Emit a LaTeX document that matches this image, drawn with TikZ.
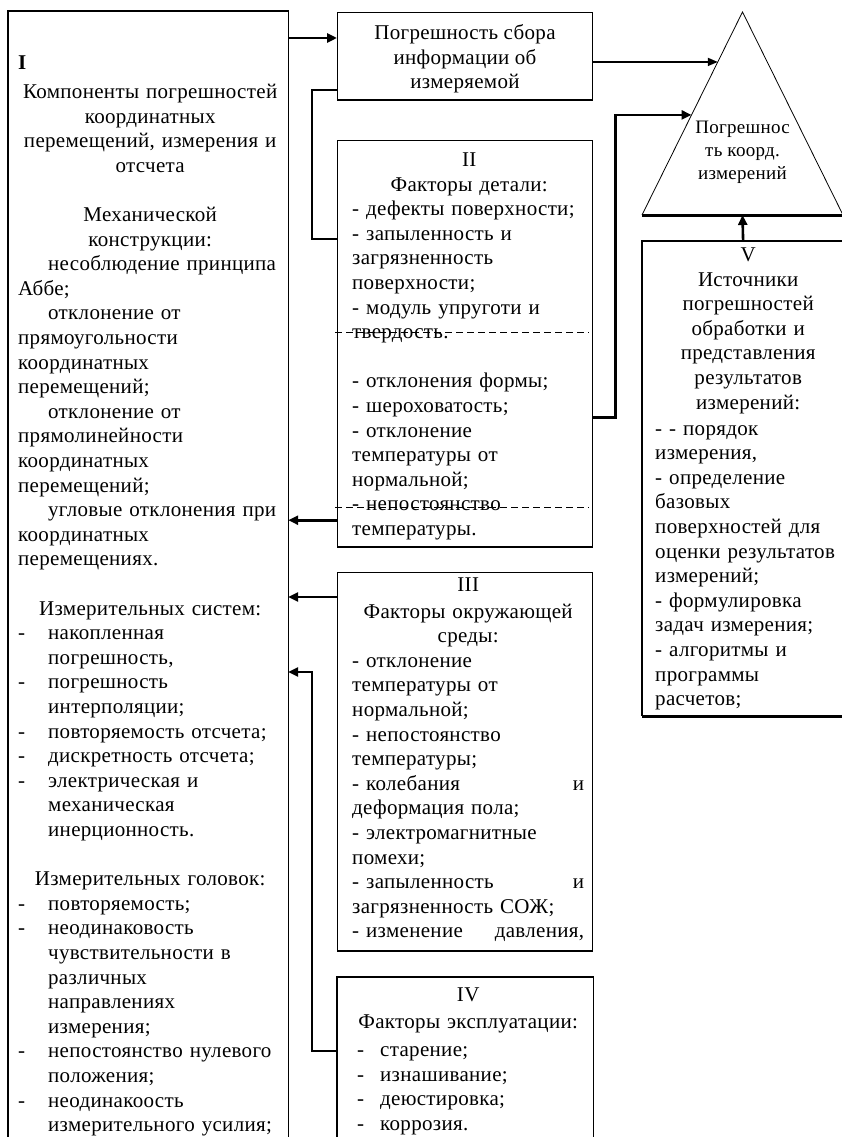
\documentclass[tikz,border=0pt]{standalone}
\usepackage{fontspec}
\setmainfont{Liberation Serif}[LetterSpace=1.5]
\usetikzlibrary{arrows.meta,calc}
\setlength{\parindent}{0pt}
\newcommand{\bodyfont}{\fontsize{21}{24.6}\selectfont}
\newcommand{\trifont}{\fontsize{19}{23}\selectfont}
\newcommand{\ctrline}[1]{\mbox{}\hfill\mbox{#1}\hfill\mbox{}}
\newcommand{\itm}{\makebox[30pt][l]{-}}
\newcommand{\indt}{\hspace*{30pt}}
\newcommand{\ivitem}[1]{\hspace*{5pt}-\hspace*{16pt}#1}
\begin{document}
\begin{tikzpicture}[x=1pt,y=-1pt,
    boxf/.style={draw,line width=1.2pt,inner sep=0pt,anchor=north west},
    txt/.style={inner sep=0pt,anchor=north west,align=left,font=\bodyfont},
    link/.style={line width=2.6pt},
    arr/.style={link,-{Triangle[length=10pt,width=9pt]}},
    arrw/.style={line width=1.8pt,-{Triangle[length=10pt,width=8pt]}}]
    \useasboundingbox (0,0) rectangle (842,1137);
    \begin{scope}[every node/.style={boxf}]
        \node[draw=none,minimum width=279pt,minimum height=1126pt] (If) at (8,11) {};
        \node[minimum width=255pt,minimum height=87pt] (Sf) at (337,12) {};
        \node[minimum width=255pt,minimum height=406pt] (IIf) at (337,140) {};
        \node[minimum width=255pt,minimum height=378pt] (IIIf) at (337,572) {};
        \node[draw=none,minimum width=255pt,minimum height=160pt] (IVf) at (337,977) {};
        \node[draw=none,minimum width=201pt,minimum height=474pt] (Vf) at (642,241) {};
    \end{scope}
    \draw[line width=1.2pt] (If.south west) -- (If.north west) -- (If.north east) -- (If.south east);
    \draw[line width=1.2pt] (IVf.south west) -- (IVf.north west) -- (IVf.north east) -- (IVf.south east);
    \draw[line width=1.2pt] (Vf.north east) -- (Vf.north west) -- (Vf.south west);
    \draw[line width=3pt] (Vf.south west) -- (Vf.south east);
    \draw[line width=2pt] (Sf.south west) -- (Sf.south east);
    \draw[line width=2pt] (IIf.south west) -- (IIf.south east);
    \draw[line width=2.4pt] (IIIf.south west) -- (IIIf.south east);
    \draw[dashed,dash pattern=on 7pt off 4pt] ([yshift=-192pt,xshift=-2pt]IIf.north west) -- ([yshift=-192pt,xshift=-4pt]IIf.north east);
    \draw[dashed,dash pattern=on 7pt off 4pt] ([yshift=-367pt,xshift=-2pt]IIf.north west) -- ([yshift=-367pt,xshift=-4pt]IIf.north east);

    \coordinate (tA) at (742.5,12);
    \coordinate (tL) at (642,215);
    \coordinate (tR) at (843,215);
    \coordinate (tM) at ($(tL)!0.5!(tR)$);
    \coordinate (tP1) at ($(tL)!0.754!(tA)$);
    \coordinate (tP2) at ($(tL)!0.493!(tA)$);
    \draw[line width=0.8pt] (tL) -- (tA) -- (tR);
    \draw[line width=3pt] (tL) -- (tR);

    \node[txt,text width=264pt] (It) at (18,52) {\strut\textbf{I}\\[4.4pt]
        \ctrline{Компоненты погрешностей}\\
        \ctrline{координатных}\\
        \ctrline{перемещений, измерения и}\\
        \ctrline{отсчета}\\
        \mbox{}\\
        \ctrline{Механической}\\
        \ctrline{конструкции:}\\
        \indt несоблюдение принципа\\
        Аббе;\\
        \indt отклонение от\\
        прямоугольности\\
        координатных\\
        перемещений;\\
        \indt отклонение от\\
        прямолинейности\\
        координатных\\
        перемещений;\\
        \indt угловые отклонения при\\
        координатных\\
        перемещениях.\\
        \mbox{}\\
        \ctrline{Измерительных систем:}\\
        \itm накопленная\\
        \indt погрешность,\\
        \itm погрешность\\
        \indt интерполяции;\\
        \itm повторяемость отсчета;\\
        \itm дискретность отсчета;\\
        \itm электрическая и\\
        \indt механическая\\
        \indt инерционность.\\
        \mbox{}\\
        \ctrline{Измерительных головок:}\\
        \itm повторяемость;\\
        \itm неодинаковость\\
        \indt чувствительности в\\
        \indt различных\\
        \indt направлениях\\
        \indt измерения;\\
        \itm непостоянство нулевого\\
        \indt положения;\\
        \itm неодинакоость\\
        \indt измерительного усилия;};
    \node[txt,anchor=north,align=center] (St) at (465,22) {\strut Погрешность сбора\\информации об\\измеряемой};
    \node[txt,text width=234pt] (IIt) at (352,149) {\strut\ctrline{II}\\
        \ctrline{Факторы детали:}\\
        - дефекты поверхности;\\
        - запыленность и\\
        загрязненность\\
        поверхности;\\
        - модуль упруготи и\\
        твердость.\\
        \mbox{}\\
        - отклонения формы;\\
        - шероховатость;\\
        - отклонение\\
        температуры от\\
        нормальной;\\
        - непостоянство\\
        температуры.};
    \node[txt,text width=232pt] (IIIt) at (352,574) {\strut\ctrline{III}\\[2pt]
        \ctrline{Факторы окружающей}\\
        \ctrline{среды:}\\
        - отклонение\\
        температуры от\\
        нормальной;\\
        - непостоянство\\
        температуры;\\
        - колебания\hfill и\\
        деформация пола;\\
        - электромагнитные\\
        помехи;\\
        - запыленность\hfill и\\
        загрязненность СОЖ;\\
        - изменение\hfill давления,};
    \node[txt,text width=232pt] (IVt) at (352,984) {\strut\ctrline{IV}\\[2.4pt]
        \ctrline{Факторы эксплуатации:}\\[3.4pt]
        \ivitem{старение;}\\
        \ivitem{изнашивание;}\\
        \ivitem{деюстировка;}\\
        \ivitem{коррозия.}};
    \node[txt,anchor=north,align=center,font=\trifont] (Tt) at (742.5,117) {\strut Погрешнос\\ть коорд.\\измерений};
    \node[txt,text width=186pt] (Vt) at (655,244) {\strut\ctrline{V}\\
        \ctrline{Источники}\\
        \ctrline{погрешностей}\\
        \ctrline{обработки и}\\
        \ctrline{представления}\\
        \ctrline{результатов}\\
        \ctrline{измерений:}\\[1.5pt]
        - - порядок\\
        измерения,\\
        - определение\\
        базовых\\
        поверхностей для\\
        оценки результатов\\
        измерений;\\
        - формулировка\\
        задач измерения;\\
        - алгоритмы и\\
        программы\\
        расчетов;};

    \coordinate (pA) at ([yshift=-26pt]Sf.north west);
    \coordinate (pB) at ([yshift=10pt]Sf.south west);
    \coordinate (pC) at ([yshift=-99pt]IIf.north west);
    \coordinate (pD) at ([yshift=-74pt]IIf.east);
    \coordinate (pE) at ([yshift=27pt]IIf.south west);
    \coordinate (pF) at ([yshift=-25pt]IIIf.north west);
    \coordinate (pG) at ([yshift=-74pt]IVf.north west);
    \coordinate (pH) at ([yshift=-100pt]IIIf.north west);
    \draw[arr] (If.east |- pA) -- (pA);
    \draw[link] (pB) -- ++(-25,0) |- (pC);
    \draw[arrw] (Sf.east |- tP1) -- (tP1);
    \draw[arr] (pD) -- ++(22,0) |- (tP2);
    \draw[arr] (pE) -- (pE -| If.east);
    \draw[arr] (pF) -- (pF -| If.east);
    \draw[arr] (pG) -- ++(-25,0) |- (pH -| If.east);
    \draw[arr] (Vf.north) -- (tM);
\end{tikzpicture}
\end{document}
